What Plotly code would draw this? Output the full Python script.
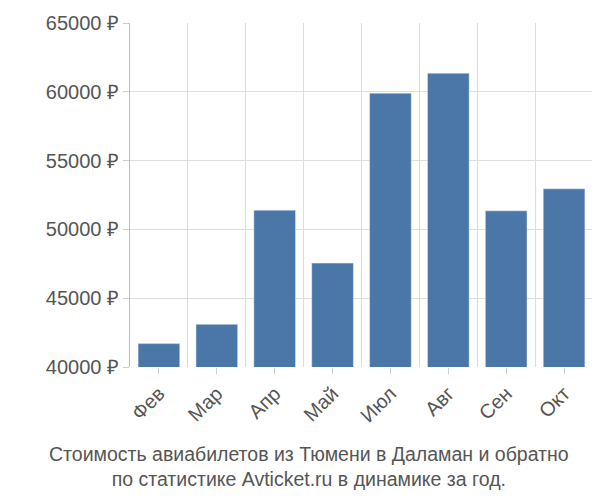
import plotly.graph_objects as go

months = ["Фев", "Мар", "Апр", "Май", "Июл", "Авг", "Сен", "Окт"]
prices = [41700, 43100, 51400, 47550, 59900, 61350, 51350, 52950]
yticks = [40000, 45000, 50000, 55000, 60000, 65000]
ylabels = [f"{v} ₽" for v in yticks]

x = list(range(len(months)))
fig = go.Figure(go.Bar(x=x, y=prices, marker_color="#4a76a8", width=0.72))
fig.update_layout(
    width=600, height=500, plot_bgcolor="white", paper_bgcolor="white",
    margin=dict(l=122, r=15, t=15, b=141, autoexpand=False), showlegend=False,
    font=dict(family="Liberation Sans, Arial", color="#555"),
)
fig.update_xaxes(
    range=[-0.5, len(months) - 0.5], tickvals=x, ticktext=months, tickangle=-45,
    tickfont=dict(size=20), showgrid=False, ticks="outside", ticklen=6, tickcolor="#ccc",
    minor=dict(tickvals=[i + 0.5 for i in x], showgrid=True, gridcolor="#ddd"),
)
fig.update_yaxes(
    range=[40000, 65000], tickvals=yticks, ticktext=ylabels, tickfont=dict(size=20),
    showgrid=True, gridcolor="#ddd", showline=True, linecolor="#bbb",
    ticks="outside", ticklen=6, tickcolor="#ccc",
)
fig.add_annotation(
    text="Стоимость авиабилетов из Тюмени в Даламан и обратно<br>по статистике Avticket.ru в динамике за год.",
    xref="paper", yref="paper", x=0.5, y=-0.215, yanchor="top", showarrow=False,
    font=dict(size=19.5, color="#555"), xshift=-53,
)
fig.write_html("out.html")
